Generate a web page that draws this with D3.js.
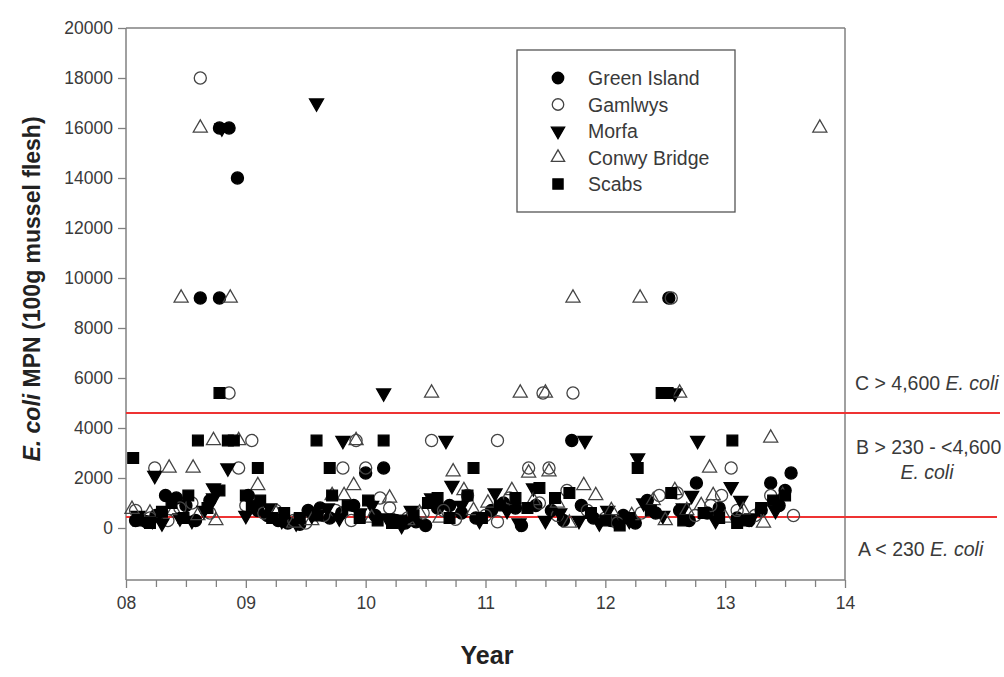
<!DOCTYPE html>
<html><head><meta charset="utf-8">
<script src="https://cdn.jsdelivr.net/npm/d3@7"></script>
<style>
body{margin:0;background:#fff;}
svg{font-family:"Liberation Sans",Arial,sans-serif;}
</style></head><body>
<svg id="chart" width="1004" height="677"></svg>
<script>
const seriesNames = ["Green Island","Gamlwys","Morfa","Conwy Bridge","Scabs"];
const xTickLabels = ["08","09","10","11","12","13","14"];
const yTickValues = [0,2000,4000,6000,8000,10000,12000,14000,16000,18000,20000];
const thresholds = [4600, 440];

const greenIsland = [[8.62,9200],[8.78,9200],[8.78,16000],[8.86,16000],[8.93,14000],[10.0,2200],[10.15,2400],[11.72,3500],[12.53,9200],[12.76,1800],[13.38,1800],[13.55,2200],
[8.08,300],[8.17,250],[8.25,500],[8.33,1300],[8.42,1200],[8.5,900],[8.58,300],[8.7,1100],[9.02,1300],[9.1,700],[9.18,500],[9.27,300],[9.35,200],[9.45,150],[9.52,700],[9.62,800],[9.7,400],[9.8,600],[9.9,900],[10.08,500],[10.25,300],[10.33,200],[10.42,250],[10.5,100],[10.6,800],[10.7,900],[10.8,600],[10.92,400],[11.05,700],[11.15,1000],[11.25,800],[11.3,100],[11.42,900],[11.55,700],[11.65,300],[11.8,900],[11.9,400],[12.05,300],[12.15,500],[12.25,200],[12.35,1100],[12.42,600],[12.62,700],[12.7,300],[12.85,600],[12.95,800],[13.1,400],[13.2,300],[13.3,700],[13.45,900],[13.5,1500]];

const gamlwys = [[8.62,18000],[8.86,5400],[8.94,2400],[9.05,3500],[9.81,2400],[9.92,3500],[10.0,2400],[10.55,3500],[11.1,3500],[11.36,2400],[11.48,5400],[11.53,2400],[11.73,5400],[12.55,9200],[13.05,2400],[8.24,2400],
[8.08,700],[8.2,400],[8.35,300],[8.45,800],[8.55,1000],[8.7,600],[9.0,900],[9.15,600],[9.25,700],[9.4,300],[9.5,200],[9.65,500],[9.75,700],[9.88,300],[10.12,1200],[10.2,800],[10.35,400],[10.48,600],[10.65,700],[10.75,350],[10.85,1300],[11.0,500],[11.1,250],[11.2,1200],[11.45,1000],[11.6,500],[11.68,1500],[11.85,700],[12.0,400],[12.1,200],[12.3,600],[12.45,1300],[12.6,1400],[12.75,500],[12.88,900],[12.97,1300],[13.1,700],[13.25,500],[13.38,1300],[13.57,500]];

const morfa = [[8.8,16000],[9.59,17000],[10.15,5400],[12.58,5400],[9.81,3500],[10.67,3500],[11.83,3500],[12.77,3500],[8.24,2100],[8.85,2400],[12.27,2800],[13.05,1650],[13.13,1100],
[8.1,500],[8.22,300],[8.3,200],[8.45,400],[8.55,300],[8.65,700],[8.73,1600],[8.73,1200],[9.0,500],[9.2,800],[9.3,300],[9.42,200],[9.55,500],[9.68,800],[9.78,400],[9.95,600],[10.05,900],[10.18,400],[10.3,100],[10.38,700],[10.55,1200],[10.72,1700],[10.8,900],[10.95,300],[11.08,1400],[11.18,700],[11.28,200],[11.4,1600],[11.5,300],[11.62,600],[11.78,300],[11.95,200],[12.02,700],[12.2,300],[12.32,1000],[12.48,500],[12.65,800],[12.72,1300],[12.92,300],[13.22,400],[13.42,700]];

const conwyBridge = [[8.46,9200],[8.62,16000],[8.87,9200],[11.73,9200],[12.29,9200],[13.79,16000],[10.55,5400],[11.29,5400],[11.5,5400],[12.62,5400],[8.73,3500],[8.94,3500],[9.92,3500],[13.38,3600],[8.36,2400],[8.56,2400],[10.73,2250],[11.36,2200],[11.53,2250],[12.87,2400],
[8.05,750],[8.2,600],[8.4,700],[8.6,500],[8.75,300],[9.1,1700],[9.25,600],[9.4,200],[9.55,300],[9.72,1300],[9.82,1300],[9.9,1700],[10.05,400],[10.2,1200],[10.35,300],[10.45,600],[10.62,400],[10.82,1500],[10.9,700],[11.02,1000],[11.22,1500],[11.4,1100],[11.6,1000],[11.7,200],[11.82,1700],[11.92,1300],[12.05,700],[12.22,500],[12.4,1100],[12.5,300],[12.58,1500],[12.68,700],[12.8,900],[12.9,1300],[13.0,400],[13.15,700],[13.32,200],[13.48,1300]];

const scabs = [[8.06,2800],[8.6,3500],[8.78,5400],[8.85,3500],[8.9,3500],[9.1,2400],[9.59,3500],[9.7,2400],[10.15,3500],[10.9,2400],[12.27,2400],[12.47,5400],[12.52,5400],[13.06,3500],[9.0,1300],
[8.1,300],[8.2,200],[8.3,650],[8.38,1000],[8.48,400],[8.52,1300],[8.68,800],[8.78,1500],[9.05,900],[9.12,1100],[9.22,400],[9.32,600],[9.45,400],[9.6,500],[9.72,1300],[9.85,900],[9.95,400],[10.02,1100],[10.1,300],[10.22,200],[10.3,300],[10.4,500],[10.52,1000],[10.6,1200],[10.7,400],[10.85,1300],[10.97,400],[11.12,900],[11.25,1200],[11.35,800],[11.45,1600],[11.58,1200],[11.7,1400],[11.88,600],[12.0,300],[12.12,100],[12.2,400],[12.38,700],[12.55,1400],[12.65,300],[12.82,600],[12.95,400],[13.1,200],[13.18,300],[13.3,800],[13.4,1100],[13.5,1300]];

const seriesData = [greenIsland, gamlwys, morfa, conwyBridge, scabs];

const svg = d3.select("#chart");
const L = 126, R = 845, T = 28, B = 580;
const x = d3.scaleLinear().domain([8,14]).range([L,R]);
const y = d3.scaleLinear().domain([-2080,20000]).range([B,T]);

const axisColor = "#808080", textColor = "#3a3a3a";

const styles = [
  {type:d3.symbolCircle, size:115, fill:"#000", stroke:"#000", rot:0},
  {type:d3.symbolCircle, size:115, fill:"none", stroke:"#444", rot:0},
  {type:d3.symbolTriangle, size:85, fill:"#000", stroke:"#000", rot:180},
  {type:d3.symbolTriangle, size:85, fill:"none", stroke:"#444", rot:0},
  {type:d3.symbolSquare, size:115, fill:"#000", stroke:"#000", rot:0}
];

// frame
svg.append("line").attr("x1",L).attr("x2",R).attr("y1",T).attr("y2",T).attr("stroke",axisColor).attr("stroke-width",1.5);
svg.append("line").attr("x1",R).attr("x2",R).attr("y1",T).attr("y2",B).attr("stroke",axisColor).attr("stroke-width",1.5);

// axes
const yAxis = d3.axisLeft(y).tickValues(yTickValues).tickSize(8).tickPadding(5).tickFormat(d3.format("d"));
const gy = svg.append("g").attr("transform",`translate(${L},0)`).call(yAxis);
gy.select(".domain").attr("stroke",axisColor).attr("stroke-width",1.5).attr("d",`M-0,${B}V${T}`);
gy.selectAll(".tick line").attr("stroke",axisColor).attr("stroke-width",1.3);
gy.selectAll(".tick text").attr("fill",textColor).attr("font-size",17.5);

const majors = d3.range(8,14.001,1);
const minors = d3.range(8,14,0.25).filter(v=>Math.abs(v-Math.round(v))>0.01);
const xAxis = d3.axisBottom(x).tickValues(majors).tickSize(8).tickPadding(9).tickFormat((d,i)=>xTickLabels[i]);
const gx = svg.append("g").attr("transform",`translate(0,${B})`).call(xAxis);
gx.select(".domain").attr("stroke",axisColor).attr("stroke-width",1.5).attr("d",`M${L},0H${R}`);
gx.selectAll(".tick line").attr("stroke",axisColor).attr("stroke-width",1.3);
gx.selectAll(".tick text").attr("fill",textColor).attr("font-size",17.5);
const gxm = svg.append("g").attr("transform",`translate(0,${B})`).call(d3.axisBottom(x).tickValues(minors).tickSize(7).tickFormat(""));
gxm.select(".domain").remove();
gxm.selectAll(".tick line").attr("stroke",axisColor).attr("stroke-width",1.3);

// threshold lines
svg.append("line").attr("x1",L).attr("x2",1000).attr("y1",y(thresholds[0])).attr("y2",y(thresholds[0])).attr("stroke","#ee3333").attr("stroke-width",2);
svg.append("line").attr("x1",L).attr("x2",997).attr("y1",y(thresholds[1])).attr("y2",y(thresholds[1])).attr("stroke","#ee3333").attr("stroke-width",2);

// points
seriesData.forEach((data,i)=>{
  const st = styles[i];
  const sym = d3.symbol().type(st.type).size(st.size);
  svg.append("g").selectAll("path").data(data).join("path")
    .attr("d",sym)
    .attr("transform",d=>`translate(${x(d[0])},${y(d[1])}) rotate(${st.rot})`)
    .attr("fill",st.fill).attr("stroke",st.stroke).attr("stroke-width",1.3);
});

// legend
const lg = svg.append("g");
lg.append("rect").attr("x",517).attr("y",50).attr("width",218).attr("height",162)
  .attr("fill","#fff").attr("stroke","#555").attr("stroke-width",1.3);
seriesNames.forEach((n,i)=>{
  const st = styles[i];
  const yy = 78 + i*26.5;
  lg.append("path").attr("d",d3.symbol().type(st.type).size(st.size*0.9))
    .attr("transform",`translate(558,${yy}) rotate(${st.rot})`)
    .attr("fill",st.fill).attr("stroke",st.stroke).attr("stroke-width",1.3);
  lg.append("text").attr("x",588).attr("y",yy+7).attr("font-size",19.5).attr("fill",textColor).text(n);
});

// right labels
function label(xp, yp, parts, anchor){
  const t = svg.append("text").attr("x",xp).attr("y",yp).attr("font-size",19.5).attr("fill",textColor).attr("text-anchor",anchor||"start");
  parts.forEach(p=>t.append("tspan").attr("font-style",p[1]?"italic":"normal").text(p[0]));
}
label(855,390,[["C > 4,600 ",false],["E. coli",true]]);
label(856,454,[["B > 230 - <4,600",false]]);
label(927,479,[["E. coli",true]],"middle");
label(858,556,[["A < 230 ",false],["E. coli",true]]);

// axis titles
const yt = svg.append("text").attr("transform",`translate(40,289) rotate(-90)`).attr("text-anchor","middle")
  .attr("font-size",23).attr("font-weight","bold").attr("fill","#222");
yt.append("tspan").attr("font-style","italic").text("E. coli");
yt.append("tspan").text(" MPN (100g mussel flesh)");
svg.append("text").attr("x",487).attr("y",664).attr("text-anchor","middle").attr("font-size",25).attr("font-weight","bold").attr("fill","#222").text("Year");
</script>
</body></html>
